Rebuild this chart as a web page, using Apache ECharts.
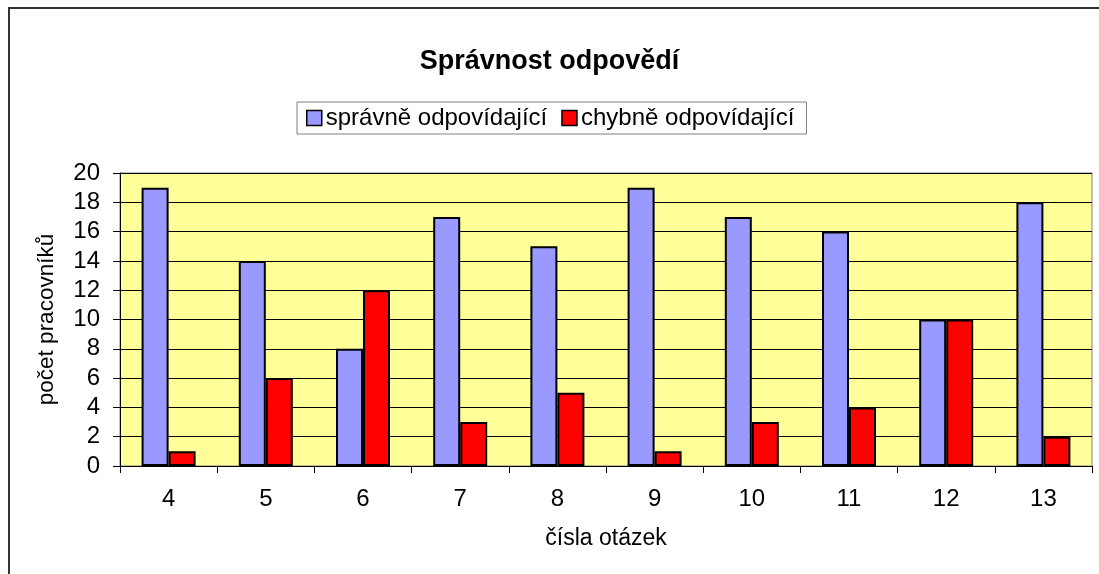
<!DOCTYPE html>
<html>
<head>
<meta charset="utf-8">
<script src="https://cdn.jsdelivr.net/npm/echarts@6/dist/echarts.min.js"></script>
<style>
  html, body { margin: 0; padding: 0; background: #fff; }
  #chart { width: 1099px; height: 574px; }
</style>
</head>
<body>
<div id="chart"></div>
<script>
const categories = ['4', '5', '6', '7', '8', '9', '10', '11', '12', '13'];
const spravne = [19, 14, 8, 17, 15, 19, 17, 16, 10, 18];
const chybne = [1, 6, 12, 3, 5, 1, 3, 4, 10, 2];

const font = '"Liberation Sans", Arial, sans-serif';
const chart = echarts.init(document.getElementById('chart'));

chart.setOption({
  animation: false,
  textStyle: { fontFamily: font },
  title: {
    text: 'Správnost odpovědí',
    left: 'center', top: 43,
    textStyle: { fontFamily: font, fontSize: 27, fontWeight: 'bold', color: '#000' }
  },
  legend: {
    top: 102, left: 297,
    itemWidth: 15, itemHeight: 15, itemGap: 14,
    padding: [4, 12, 4, 9],
    borderColor: '#808080', borderWidth: 1,
    backgroundColor: '#fff',
    textStyle: { fontFamily: font, fontSize: 24, color: '#000', padding: [0, 0, 0, -1] },
    itemStyle: { borderColor: '#000', borderWidth: 1.5 },
    data: [
      { name: 'správně odpovídající', icon: 'rect' },
      { name: 'chybně odpovídající', icon: 'rect' }
    ]
  },
  graphic: [{
    type: 'rect',
    shape: { x: 9, y: 8, width: 1100, height: 600 },
    style: { fill: 'none', stroke: '#333', lineWidth: 2 },
    silent: true
  }],
  grid: {
    left: 120, top: 173, width: 972, height: 293,
    show: true, backgroundColor: '#FFFF99', borderColor: '#808080', borderWidth: 1
  },
  xAxis: {
    type: 'category', data: categories,
    name: 'čísla otázek', nameLocation: 'middle', nameGap: 61,
    nameTextStyle: { fontFamily: font, fontSize: 23, color: '#000' },
    axisLine: { lineStyle: { color: '#000', width: 1 } },
    axisTick: { show: true, length: 7, lineStyle: { color: '#000' } },
    axisLabel: { fontFamily: font, fontSize: 24, color: '#000', margin: 21 }
  },
  yAxis: {
    type: 'value', min: 0, max: 20, interval: 2,
    name: 'počet pracovníků', nameLocation: 'middle', nameGap: 62,
    nameTextStyle: { fontFamily: font, fontSize: 22.5, color: '#000' },
    axisLine: { show: true, lineStyle: { color: '#000', width: 1 } },
    axisTick: { show: true, length: 7, lineStyle: { color: '#000' } },
    axisLabel: { fontFamily: font, fontSize: 24, color: '#000', margin: 20 },
    splitLine: { show: true, lineStyle: { color: '#000', width: 1 } }
  },
  series: [
    {
      name: 'správně odpovídající', type: 'bar', data: spravne,
      barWidth: 27, barGap: '0%',
      itemStyle: { color: '#9999FF', borderColor: '#000', borderWidth: 2 }
    },
    {
      name: 'chybně odpovídající', type: 'bar', data: chybne,
      barWidth: 27,
      itemStyle: { color: '#FF0000', borderColor: '#000', borderWidth: 2 }
    }
  ]
});
</script>
</body>
</html>
